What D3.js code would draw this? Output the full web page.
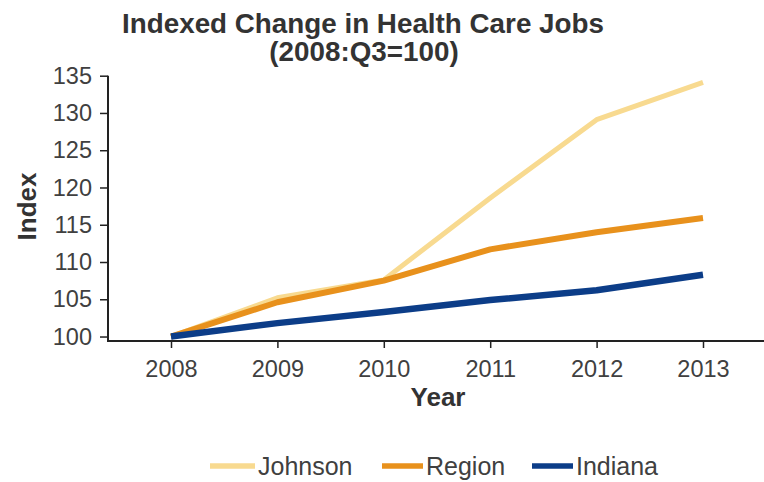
<!DOCTYPE html>
<html>
<head>
<meta charset="utf-8">
<script src="https://cdn.jsdelivr.net/npm/d3@7"></script>
<style>
  html, body { margin: 0; padding: 0; background: #fff; }
  svg { display: block; font-family: "Liberation Sans", Arial, sans-serif; }
</style>
</head>
<body>
<svg id="chart" width="764" height="482"></svg>
<script>
// ---- data ----
const years = [2008, 2009, 2010, 2011, 2012, 2013];
const johnson = [100, 105.2, 107.6, 118.6, 129.1, 134.1];
const region  = [100, 104.6, 107.5, 111.7, 114.0, 115.9];
const indiana = [100, 101.8, 103.3, 104.9, 106.2, 108.3];
const seriesNames = ["Johnson", "Region", "Indiana"];
const yTicks = [100, 105, 110, 115, 120, 125, 130, 135];

const colors = { Johnson: "#f8da90", Region: "#e8911c", Indiana: "#0c3d88" };
const widths = { Johnson: 5, Region: 6, Indiana: 6.5 };

const svg = d3.select("#chart");
const plot = { left: 108, right: 764, top: 75.7, bottom: 341 };

const x = d3.scaleLinear().domain([2008, 2013]).range([171, 703]);
const y = d3.scaleLinear().domain([99.4, 135]).range([plot.bottom, plot.top]);

const textColor = "#404040";

// title
const title = svg.append("text").attr("text-anchor", "middle")
  .attr("font-weight", "bold").attr("font-size", 27.8).attr("fill", "#333");
title.append("tspan").attr("x", 363).attr("y", 33).text("Indexed Change in Health Care Jobs");
title.append("tspan").attr("x", 364).attr("y", 61).text("(2008:Q3=100)");

// y axis
const yAxis = svg.append("g").attr("transform", `translate(${plot.left},0)`)
  .call(d3.axisLeft(y).tickValues(yTicks).tickSize(8).tickPadding(8).tickSizeOuter(0));
yAxis.select(".domain").remove();
yAxis.append("line").attr("x1", 0).attr("x2", 0)
  .attr("y1", y(135)).attr("y2", plot.bottom + 1).attr("stroke", "#222").attr("stroke-width", 2);
yAxis.selectAll(".tick line").attr("stroke", "#222").attr("stroke-width", 1.5);
yAxis.selectAll(".tick text").attr("font-size", 23.5).attr("fill", textColor)
  .attr("font-family", "'Liberation Sans', Arial, sans-serif");

// x axis
const xAxis = svg.append("g").attr("transform", `translate(0,${plot.bottom})`)
  .call(d3.axisBottom(x).tickValues(years).tickFormat(d3.format("d")).tickSize(7).tickPadding(12).tickSizeOuter(0));
xAxis.select(".domain").remove();
xAxis.append("line").attr("x1", plot.left - 1).attr("x2", plot.right)
  .attr("y1", 0).attr("y2", 0).attr("stroke", "#222").attr("stroke-width", 2);
xAxis.selectAll(".tick line").attr("stroke", "#222").attr("stroke-width", 1.5);
xAxis.selectAll(".tick text").attr("font-size", 23.5).attr("fill", textColor)
  .attr("font-family", "'Liberation Sans', Arial, sans-serif");

// axis titles
svg.append("text").attr("x", 438).attr("y", 405.5).attr("text-anchor", "middle")
  .attr("font-weight", "bold").attr("font-size", 26).attr("fill", "#333").text("Year");
svg.append("text").attr("transform", "translate(36,206.5) rotate(-90)")
  .attr("text-anchor", "middle").attr("font-weight", "bold").attr("font-size", 26)
  .attr("fill", "#333").text("Index");

// lines
const dataMap = { Johnson: johnson, Region: region, Indiana: indiana };
const line = d3.line().x(d => x(d[0])).y(d => y(d[1]));
seriesNames.forEach(name => {
  svg.append("path")
    .datum(years.map((yr, i) => [yr, dataMap[name][i]]))
    .attr("fill", "none").attr("stroke", colors[name]).attr("stroke-width", widths[name])
    .attr("stroke-linejoin", "round").attr("stroke-linecap", "butt")
    .attr("d", line);
});

// legend
const legendItems = [
  { name: "Johnson", x0: 210, x1: 255, tx: 258 },
  { name: "Region", x0: 382, x1: 423, tx: 426 },
  { name: "Indiana", x0: 532, x1: 573, tx: 576 }
];
const lg = svg.append("g");
legendItems.forEach(it => {
  lg.append("line").attr("x1", it.x0).attr("x2", it.x1).attr("y1", 466).attr("y2", 466)
    .attr("stroke", colors[it.name]).attr("stroke-width", 5.5);
  lg.append("text").attr("x", it.tx).attr("y", 474.5).attr("font-size", 25)
    .attr("fill", textColor).text(it.name);
});
</script>
</body>
</html>
